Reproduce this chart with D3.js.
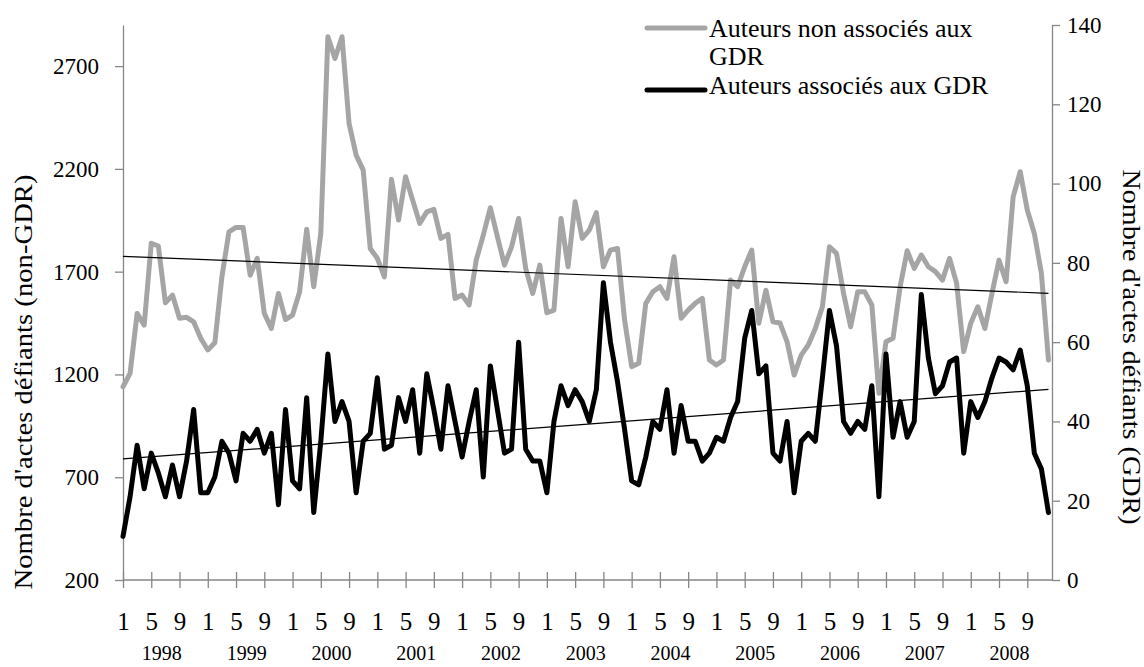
<!DOCTYPE html>
<html>
<head>
<meta charset="utf-8">
<script src="https://cdn.jsdelivr.net/npm/d3@7/dist/d3.min.js"></script>
<style>
  html, body { margin: 0; padding: 0; background: #fff; }
  svg { display: block; }
  text { font-family: "Liberation Serif", "DejaVu Serif", serif; fill: #000; }
</style>
</head>
<body>
<svg id="chart" width="1144" height="667"></svg>
<script>
// Monthly counts of "actes défiants", January 1998 – December 2008
const years = [1998, 1999, 2000, 2001, 2002, 2003, 2004, 2005, 2006, 2007, 2008];
const monthLabels = ["1", "", "", "", "5", "", "", "", "9", "", "", ""];

// Authors not associated with the GDR (left axis)
const nonGdr = [
  1140, 1205, 1497, 1440, 1838, 1825, 1549, 1586, 1473, 1478, 1456, 1376,
  1319, 1354, 1675, 1894, 1915, 1915, 1683, 1765, 1497, 1424, 1594, 1467,
  1489, 1602, 1906, 1627, 1886, 2843, 2737, 2843, 2421, 2267, 2194, 1813,
  1765, 1675, 2149, 1951, 2162, 2048, 1935, 1991, 2003, 1862, 1881, 1570,
  1586, 1538, 1756, 1878, 2011, 1870, 1732, 1821, 1959, 1716, 1594, 1732,
  1500, 1513, 1959, 1724, 2040, 1862, 1902, 1987, 1724, 1805, 1813, 1465,
  1238, 1254, 1546, 1602, 1627, 1570, 1773, 1473, 1513, 1546, 1570, 1270,
  1246, 1270, 1659, 1627, 1724, 1805, 1449, 1610, 1456, 1450, 1359, 1197,
  1294, 1343, 1424, 1529, 1821, 1789, 1594, 1432, 1602, 1602, 1538, 1108,
  1359, 1376, 1627, 1802, 1716, 1781, 1724, 1700, 1659, 1765, 1643, 1311,
  1449, 1529, 1424, 1594, 1756, 1651, 2064, 2186, 2000, 1886, 1692, 1270
];

// Authors associated with the GDR (right axis)
const gdr = [
  11, 21, 34, 23, 32, 27, 21, 29, 21, 30, 43, 22,
  22, 26, 35, 32, 25, 37, 35, 38, 32, 37, 19, 43,
  25, 23, 46, 17, 35, 57, 40, 45, 40, 22, 35, 37,
  51, 33, 34, 46, 40, 48, 32, 52, 43, 33, 49, 40,
  31, 40, 48, 26, 54, 43, 32, 33, 60, 33, 30, 30,
  22, 40, 49, 44, 48, 45, 40, 48, 75, 60, 50, 38,
  25, 24, 31, 40, 38, 48, 32, 44, 35, 35, 30, 32,
  36, 35, 41, 45, 61, 68, 52, 54, 32, 30, 40, 22,
  35, 37, 35, 51, 68, 59, 40, 37, 40, 38, 49, 21,
  57, 36, 45, 36, 40, 72, 56, 47, 49, 55, 56, 32,
  45, 41, 45, 51, 56, 55, 53, 58, 49, 32, 28, 17
];

const leftTicks = [200, 700, 1200, 1700, 2200, 2700];
const rightTicks = [0, 20, 40, 60, 80, 100, 120, 140];
const seriesNames = ["Auteurs non associés aux", "GDR", "Auteurs associés aux GDR"];
const leftTitle = "Nombre d'actes défiants (non-GDR)";
const rightTitle = "Nombre d'actes défiants (GDR)";

const FONT = '"Liberation Serif", "DejaVu Serif", serif';
const svg = d3.select("#chart");
const plot = { left: 123, right: 1052, top: 25, bottom: 580 };
const axisColor = "#868686";

const x = d3.scaleLinear().domain([0, 131.5]).range([plot.left, plot.right]);
const yL = d3.scaleLinear().domain([200, 2900]).range([plot.bottom, plot.top]);
const yR = d3.scaleLinear().domain([0, 140]).range([plot.bottom, plot.top]);

// Least-squares trend over the month index
function trend(values) {
  const n = values.length;
  const xs = d3.range(n);
  const mx = d3.mean(xs), my = d3.mean(values);
  let sxy = 0, sxx = 0;
  xs.forEach((xi, k) => { sxy += (xi - mx) * (values[k] - my); sxx += (xi - mx) ** 2; });
  const b = sxy / sxx, a = my - b * mx;
  return [[0, a], [n - 1, a + b * (n - 1)]];
}

// Axes
const gLeft = svg.append("g")
  .attr("transform", `translate(${plot.left},0)`)
  .call(d3.axisLeft(yL).tickValues(leftTicks).tickFormat(d3.format("d"))
    .tickSize(8).tickSizeOuter(0).tickPadding(16));
const gRight = svg.append("g")
  .attr("transform", `translate(${plot.right},0)`)
  .call(d3.axisRight(yR).tickValues(rightTicks).tickFormat(d3.format("d"))
    .tickSize(8).tickSizeOuter(0).tickPadding(7));
const monthTicks = d3.range(0, nonGdr.length, 4);
const gBottom = svg.append("g")
  .attr("transform", `translate(0,${plot.bottom})`)
  .call(d3.axisBottom(x).tickValues(monthTicks).tickFormat(i => monthLabels[i % 12])
    .tickSize(8).tickSizeOuter(0).tickPadding(24));
gBottom.selectAll(".tick line").attr("y1", -8);
gBottom.select(".domain").attr("d", `M${plot.left},0H${plot.right}`);

[gLeft, gRight, gBottom].forEach(g => {
  g.attr("font-family", FONT);
  g.select(".domain").attr("stroke", axisColor).attr("stroke-width", 1.3);
  g.selectAll(".tick line").attr("stroke", axisColor).attr("stroke-width", 1.3);
  g.selectAll(".tick text").attr("fill", "#000").style("font-family", FONT);
});
gLeft.selectAll(".tick text").style("font-size", "23px");
gRight.selectAll(".tick text").style("font-size", "23px");
gBottom.selectAll(".tick text").style("font-size", "25px");

// Year labels under each block of twelve months
svg.append("g").selectAll("text").data(years).join("text")
  .attr("x", (d, k) => x(k * 12 + 5.5))
  .attr("y", 660)
  .attr("text-anchor", "middle")
  .style("font-size", "20px")
  .text(d => d);

// Series
const lineL = d3.line().x((d, i) => x(i)).y(d => yL(d));
const lineR = d3.line().x((d, i) => x(i)).y(d => yR(d));

svg.append("path").datum(nonGdr)
  .attr("fill", "none").attr("stroke", "#a5a5a5").attr("stroke-width", 5)
  .attr("stroke-linejoin", "round").attr("stroke-linecap", "round")
  .attr("d", lineL);
svg.append("path").datum(gdr)
  .attr("fill", "none").attr("stroke", "#000").attr("stroke-width", 5)
  .attr("stroke-linejoin", "round").attr("stroke-linecap", "round")
  .attr("d", lineR);

// Linear trend lines
const trendLine = (scale) => d3.line().x(d => x(d[0])).y(d => scale(d[1]));
svg.append("path").datum(trend(nonGdr))
  .attr("fill", "none").attr("stroke", "#000").attr("stroke-width", 1.2)
  .attr("d", trendLine(yL));
svg.append("path").datum(trend(gdr))
  .attr("fill", "none").attr("stroke", "#000").attr("stroke-width", 1.2)
  .attr("d", trendLine(yR));

// Legend
const legend = svg.append("g");
legend.append("line").attr("x1", 647).attr("x2", 705).attr("y1", 28).attr("y2", 28)
  .attr("stroke", "#a5a5a5").attr("stroke-width", 5).attr("stroke-linecap", "round");
legend.append("line").attr("x1", 647).attr("x2", 705).attr("y1", 90).attr("y2", 90)
  .attr("stroke", "#000").attr("stroke-width", 5).attr("stroke-linecap", "round");
legend.append("text").attr("x", 709).attr("y", 37).style("font-size", "26px").text(seriesNames[0]);
legend.append("text").attr("x", 709).attr("y", 65).style("font-size", "26px").text(seriesNames[1]);
legend.append("text").attr("x", 709).attr("y", 94).style("font-size", "26px").text(seriesNames[2]);

// Axis titles
svg.append("text")
  .attr("transform", "translate(23,382) rotate(-90)")
  .attr("text-anchor", "middle").attr("dominant-baseline", "central")
  .style("font-size", "25px")
  .attr("textLength", 415).attr("lengthAdjust", "spacingAndGlyphs")
  .text(leftTitle);
svg.append("text")
  .attr("transform", "translate(1131,347) rotate(90)")
  .attr("text-anchor", "middle").attr("dominant-baseline", "central")
  .style("font-size", "25px")
  .attr("textLength", 355).attr("lengthAdjust", "spacingAndGlyphs")
  .text(rightTitle);
</script>
</body>
</html>
